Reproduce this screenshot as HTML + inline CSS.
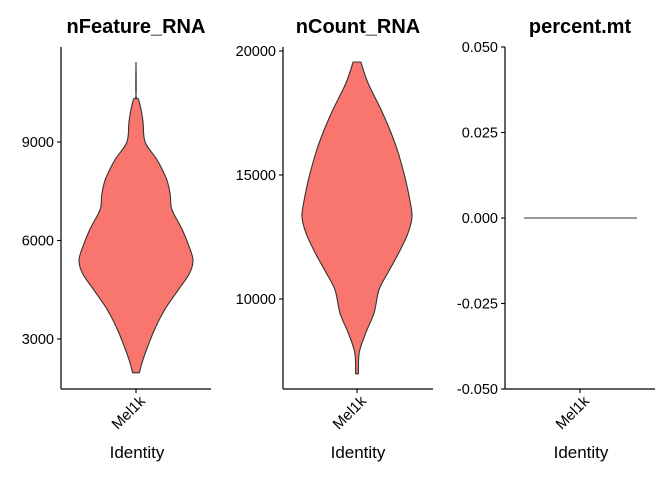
<!DOCTYPE html>
<html><head><meta charset="utf-8"><style>
html,body{margin:0;padding:0;background:#fff;}
svg{display:block;font-family:"Liberation Sans",Arial,sans-serif;}
</style></head><body>
<svg id="chart" width="672" height="480" viewBox="0 0 672 480" xmlns="http://www.w3.org/2000/svg"></svg>
<script>
// Panel 1: nFeature_RNA
const featValues = [11424,10424,10273,9667,9000,8455,7849,7394,6940,6334,5728,5364,4970,4516,3910,3304,2698,2243,1970];
const featDensity = [0,0,0.05,0.12,0.16,0.37,0.54,0.6,0.63,0.81,0.95,1,0.93,0.75,0.51,0.33,0.19,0.1,0.06];
const featTicks = [3000,6000,9000];
// Panel 2: nCount_RNA
const countValues = [19556,18710,17622,16695,15889,14922,13995,13310,12665,11859,11053,10368,9441,8635,7829,6983];
const countDensity = [0.07,0.2,0.44,0.62,0.75,0.87,0.96,1,0.93,0.76,0.56,0.4,0.31,0.16,0.04,0.025];
const countTicks = [10000,15000,20000];
// Panel 3: percent.mt
const mtValues = [0];
const mtTicks = [-0.05,-0.025,0,0.025,0.05];
const mtTickLabels = ["-0.050","-0.025","0.000","0.025","0.050"];
const category = "Mel1k";

const NS = "http://www.w3.org/2000/svg";
const svg = document.getElementById('chart');
function mk(tag, attrs, parent){
  const e = document.createElementNS(NS, tag);
  for (const k in attrs) e.setAttribute(k, attrs[k]);
  (parent||svg).appendChild(e);
  return e;
}
function smooth(pts){
  let d = 'M'+pts[0][0].toFixed(1)+','+pts[0][1].toFixed(1);
  for (let i=0;i<pts.length-1;i++){
    const p0 = pts[Math.max(0,i-1)], p1 = pts[i], p2 = pts[i+1], p3 = pts[Math.min(pts.length-1,i+2)];
    const c1 = [p1[0]+(p2[0]-p0[0])/6, p1[1]+(p2[1]-p0[1])/6];
    const c2 = [p2[0]-(p3[0]-p1[0])/6, p2[1]-(p3[1]-p1[1])/6];
    d += ' C'+c1[0].toFixed(1)+','+c1[1].toFixed(1)+' '+c2[0].toFixed(1)+','+c2[1].toFixed(1)+' '+p2[0].toFixed(1)+','+p2[1].toFixed(1);
  }
  return d;
}
const panels = [
  {title:"nFeature_RNA", ax:61, ax2:211, cx:136, top:47, bot:389, y:v=>142+(9000-v)/3000*98.5, ticks:featTicks, labels:featTicks.map(String), vals:featValues, dens:featDensity, half:57},
  {title:"nCount_RNA", ax:283, ax2:433, cx:357, top:47, bot:389, y:v=>51+(20000-v)/5000*124, ticks:countTicks, labels:countTicks.map(String), vals:countValues, dens:countDensity, half:55},
  {title:"percent.mt", ax:505, ax2:655, cx:580, top:47, bot:389, y:v=>218-v/0.05*171, ticks:mtTicks, labels:mtTickLabels, vals:null, dens:null, half:57}
];
panels.forEach((p,i)=>{
  const g = mk('g',{});
  
  
  const t = mk('text',{x:(p.ax+p.ax2)/2,y:33,'text-anchor':'middle','font-size':'20','font-weight':'bold',fill:'#000'},g);
  t.textContent = p.title;
  
  
  if (p.vals){
    const right = p.vals.map((v,j)=>[p.cx+p.dens[j]*p.half, p.y(v)]);
    const left = p.vals.map((v,j)=>[p.cx-p.dens[j]*p.half, p.y(v)]).reverse();
    const dR = smooth(right);
    const dL = smooth(left).replace(/^M/,' L');
    const path = mk('path',{d:dR+dL+' Z',fill:'#F8766D',stroke:'#333','stroke-width':'1.1','stroke-linejoin':'round'},g);
    
    
  } else {
    mtValues.forEach(v=>{
      const l = mk('line',{x1:p.cx-56,x2:p.cx+57,y1:p.y(v),y2:p.y(v),stroke:'#333','stroke-width':'1.1'},g);
      
      
    });
  }
  const ya = mk('line',{x1:p.ax,x2:p.ax,y1:p.top,y2:p.bot,stroke:'#000','stroke-width':'1.2'},g);
  
  
  const xa = mk('line',{x1:p.ax,x2:p.ax2,y1:p.bot,y2:p.bot,stroke:'#000','stroke-width':'1.2'},g);
  
  
  p.ticks.forEach((tv,j)=>{
    const yy = p.y(tv);
    const tk = mk('line',{x1:p.ax-4,x2:p.ax,y1:yy,y2:yy,stroke:'#000','stroke-width':'1.1'},g);
    
    
    const tl = mk('text',{x:p.ax-7,y:yy+5,'text-anchor':'end','font-size':'14.5',fill:'#000'},g);
    tl.textContent = p.labels[j];
    
    
  });
  const xt = mk('line',{x1:p.cx,x2:p.cx,y1:p.bot,y2:p.bot+4,stroke:'#000','stroke-width':'1.1'},g);
  
  
  const xl = mk('text',{transform:'translate('+(p.cx+10)+',402) rotate(-45)','text-anchor':'end','font-size':'15',fill:'#000'},g);
  xl.textContent = category;
  
  
  const xtitle = mk('text',{x:p.cx+1,y:458,'text-anchor':'middle','font-size':'17',fill:'#000'},g);
  xtitle.textContent = "Identity";
  
  
});
</script>
</body></html>
